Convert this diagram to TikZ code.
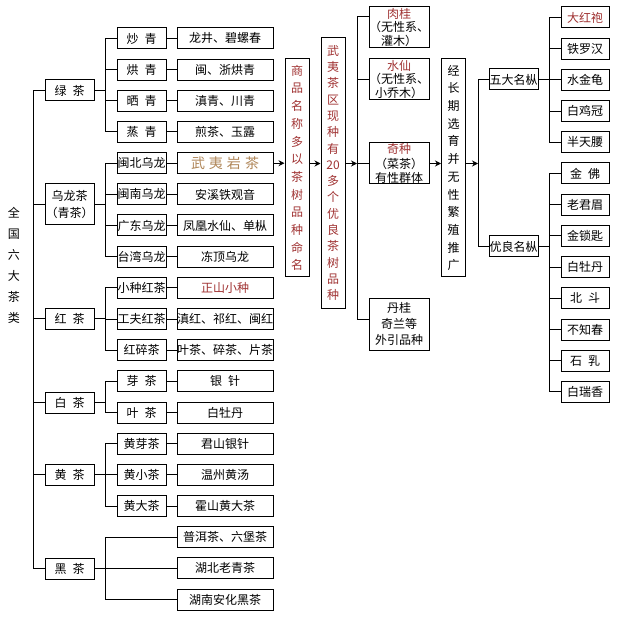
\documentclass[tikz,border=0pt]{standalone}
\usepackage{fontspec}
\setmainfont{Noto Sans CJK SC}
\usetikzlibrary{arrows.meta}
\definecolor{mingred}{HTML}{A03232}
\definecolor{yancha}{HTML}{B08658}
\newcommand{\gap}{\hspace{0.5em}}
\tikzset{
  box/.style={draw, line width=1pt, inner sep=0pt, minimum height=21pt,
              font=\fontsize{12}{14}\selectfont},
  catbox/.style={box, minimum width=49pt},
  subbox/.style={box, minimum width=49pt},
  leafbox/.style={box, minimum width=96pt},
  colbox/.style={box, minimum width=24pt, align=center, font=\fontsize{12}{17.7}\selectfont},
  varbox/.style={box, minimum width=60pt, minimum height=41pt, align=center},
  congbox/.style={box, minimum width=48pt},
  link/.style={line width=1pt},
  arr/.style={link, -{Stealth[length=6pt,width=6pt]}},
}

\begin{document}
\begin{tikzpicture}[x=1pt, y=-1pt]
  \useasboundingbox[fill=white] (0,0) rectangle (623,617);

  % title
  \node[inner sep=0pt, align=center, font=\fontsize{12}{21}\selectfont] (title) at (14,265.5)
    {全\\国\\六\\大\\茶\\类};

  % six classes
  \node[catbox] (lv) at (69.5,90.5) {绿\gap 茶};
  \node[catbox, minimum height=41pt, align=center, font=\fontsize{12}{17}\selectfont] (wl) at (69.5,204.5) {乌龙茶\\（青茶）};
  \node[catbox] (hong) at (69.5,318.5) {红\gap 茶};
  \node[catbox] (bai) at (69.5,402.5) {白\gap 茶};
  \node[catbox] (huang) at (69.5,474.5) {黄\gap 茶};
  \node[catbox] (hei) at (69.5,568.5) {黑\gap 茶};

  % sub classes
  \node[subbox] (s0) at (141.5,38.5) {炒\gap 青};
  \node[subbox] (s1) at (141.5,69.7) {烘\gap 青};
  \node[subbox] (s2) at (141.5,100.8) {晒\gap 青};
  \node[subbox] (s3) at (141.5,132.0) {蒸\gap 青};
  \node[subbox] (s4) at (141.5,163.2) {闽北乌龙};
  \node[subbox] (s5) at (141.5,194.4) {闽南乌龙};
  \node[subbox] (s6) at (141.5,225.5) {广东乌龙};
  \node[subbox] (s7) at (141.5,256.7) {台湾乌龙};
  \node[subbox] (s8) at (141.5,287.9) {小种红茶};
  \node[subbox] (s9) at (141.5,319.0) {工夫红茶};
  \node[subbox] (s10) at (141.5,350.2) {红碎茶};
  \node[subbox] (s11) at (141.5,381.4) {芽\gap 茶};
  \node[subbox] (s12) at (141.5,412.5) {叶\gap 茶};
  \node[subbox] (s13) at (141.5,443.7) {黄芽茶};
  \node[subbox] (s14) at (141.5,474.9) {黄小茶};
  \node[subbox] (s15) at (141.5,506.1) {黄大茶};

  % teas
  \node[leafbox] (t0) at (225,38.5) {龙井、碧螺春};
  \node[leafbox] (t1) at (225,69.7) {闽、浙烘青};
  \node[leafbox] (t2) at (225,100.8) {滇青、川青};
  \node[leafbox] (t3) at (225,132.0) {煎茶、玉露};
  \node[leafbox, text=yancha, font=\fontsize{14}{16}\selectfont] (t4) at (225,163.2)
    {武\hspace{4pt}夷\hspace{4pt}岩\hspace{4pt}茶};
  \node[leafbox] (t5) at (225,194.4) {安溪铁观音};
  \node[leafbox] (t6) at (225,225.5) {凤凰水仙、单枞};
  \node[leafbox] (t7) at (225,256.7) {冻顶乌龙};
  \node[leafbox, text=mingred] (t8) at (225,287.9) {正山小种};
  \node[leafbox] (t9) at (225,319.0) {滇红、祁红、闽红};
  \node[leafbox] (t10) at (225,350.2) {叶茶、碎茶、片茶};
  \node[leafbox] (t11) at (225,381.4) {银\gap 针};
  \node[leafbox] (t12) at (225,412.5) {白牡丹};
  \node[leafbox] (t13) at (225,443.7) {君山银针};
  \node[leafbox] (t14) at (225,474.9) {温州黄汤};
  \node[leafbox] (t15) at (225,506.1) {霍山黄大茶};
  \node[leafbox] (t16) at (225,537.2) {普洱茶、六堡茶};
  \node[leafbox] (t17) at (225,568.4) {湖北老青茶};
  \node[leafbox] (t18) at (225,599.6) {湖南安化黑茶};

  % tree on the left
  \coordinate (trunk) at (33,0);
  \coordinate (br) at (105,0);
  \draw[link] (lv.west -| trunk) -- (hei.west -| trunk);
  \foreach \c in {lv,wl,hong,bai,huang,hei}
    \draw[link] (\c.west) -- (\c.west -| trunk);
  \foreach \c/\a/\b in {lv/s0/s3, wl/s4/s7, hong/s8/s10, bai/s11/s12, huang/s13/s15, hei/t16/t18} {
    \draw[link] (\c.east) -- (\c.east -| br);
    \draw[link] (\a.west -| br) -- (\b.west -| br);
  }
  \foreach \s in {0,...,15} {
    \draw[link] (s\s.west -| br) -- (s\s.west);
    \draw[link] (s\s.east) -- (t\s.west);
  }
  \foreach \t in {16,17,18}
    \draw[link] (t\t.west -| br) -- (t\t.west);

  % middle columns
  \node[colbox, text=mingred, minimum height=218pt] (ming) at (297,168)
    {商\\品\\名\\称\\多\\以\\茶\\树\\品\\种\\命\\名};
  \node[colbox, text=mingred, minimum height=270pt, font=\fontsize{12}{16.3}\selectfont] (youz) at (333,173)
    {武\\夷\\茶\\区\\现\\种\\有\\20\\多\\个\\优\\良\\茶\\树\\品\\种};

  \node[varbox, font=\fontsize{12}{13.5}\selectfont] (rougui) at (399,27.5)
    {\textcolor{mingred}{肉桂}\\（无性系、\\灌木）};
  \node[varbox, font=\fontsize{12}{13.5}\selectfont] (shuixian) at (399,79.5)
    {\textcolor{mingred}{水仙}\\（无性系、\\小乔木）};
  \node[varbox, font=\fontsize{12}{14.5}\selectfont] (qizhong) at (399,163.5)
    {\textcolor{mingred}{奇种}\\（菜茶）\\有性群体};
  \node[varbox, minimum height=52pt, font=\fontsize{12}{16}\selectfont] (dangui) at (399,324)
    {丹桂\\奇兰等\\外引品种};

  \node[colbox, minimum height=218pt] (jing) at (453.5,168)
    {经\\长\\期\\选\\育\\并\\无\\性\\繁\\殖\\推\\广};

  \coordinate (fen) at (357,17);
  \coordinate (fenend) at (357,319);
  \draw[link] (fen) -- (fenend);
  \draw[link] (fen) -- (fen -| rougui.west);
  \draw[link] (shuixian.west -| fen) -- (shuixian.west);
  \draw[link] (qizhong.west -| fen) -- (qizhong.west);
  \draw[link] (fenend) -- (fenend -| dangui.west);

  \draw[arr] (t4.east) -- (t4.east -| ming.west);
  \draw[arr] (ming.east |- qizhong) -- (youz.west |- qizhong);
  \draw[arr] (youz.east |- qizhong) -- (qizhong -| fen);
  \draw[arr] (qizhong.east) -- (qizhong.east -| jing.west);

  % famous bushes
  \node[catbox] (wuda) at (513.5,79.5) {五大名枞};
  \node[catbox] (youm) at (513.5,246.5) {优良名枞};

  \node[congbox, text=mingred] (n0) at (585,17.5) {大红袍};
  \node[congbox] (n1) at (585,48.7) {铁罗汉};
  \node[congbox] (n2) at (585,79.9) {水金龟};
  \node[congbox] (n3) at (585,111.1) {白鸡冠};
  \node[congbox] (n4) at (585,142.3) {半天腰};
  \node[congbox] (n5) at (585,173.5) {金\gap 佛};
  \node[congbox] (n6) at (585,204.7) {老君眉};
  \node[congbox] (n7) at (585,235.9) {金锁匙};
  \node[congbox] (n8) at (585,267.1) {白牡丹};
  \node[congbox] (n9) at (585,298.3) {北\gap 斗};
  \node[congbox] (n10) at (585,329.5) {不知春};
  \node[congbox] (n11) at (585,360.7) {石\gap 乳};
  \node[congbox] (n12) at (585,391.9) {白瑞香};

  \coordinate (fz) at (478,0);
  \coordinate (rz) at (549,0);
  \draw[arr] (jing.east |- qizhong) -- (qizhong -| fz);
  \draw[link] (wuda.west -| fz) -- (youm.west -| fz);
  \foreach \c in {wuda,youm}
    \draw[link] (\c.west -| fz) -- (\c.west);
  \draw[link] (wuda.east) -- (wuda.east -| rz);
  \draw[link] (youm.east) -- (youm.east -| rz);
  \draw[link] (n0.west -| rz) -- (n4.west -| rz);
  \draw[link] (n5.west -| rz) -- (n12.west -| rz);
  \foreach \k in {0,...,12}
    \draw[link] (n\k.west -| rz) -- (n\k.west);
\end{tikzpicture}
\end{document}
